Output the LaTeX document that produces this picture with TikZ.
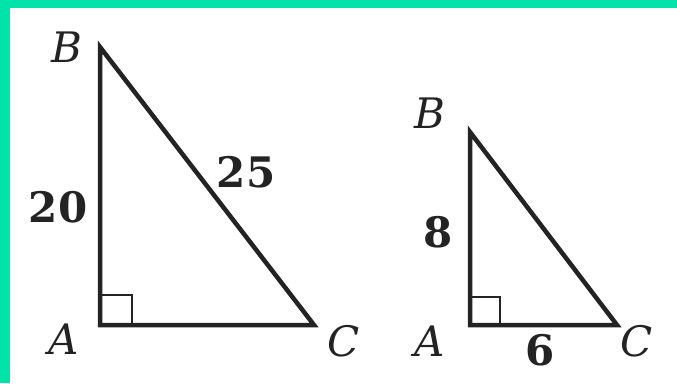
\documentclass[tikz,border=0pt]{standalone}
\usepackage{fontspec}
\setmainfont{DejaVu Serif}
\definecolor{frame}{RGB}{0,228,170}
\definecolor{ink}{RGB}{35,35,35}
\tikzset{
  tri/.style={draw=ink,line width=4.5pt,line join=miter},
  rmark/.style={draw=ink,line width=2.4pt},
  lbl/.style={font=\fontsize{42}{42}\selectfont\itshape,text=ink,inner sep=0pt},
  num/.style={font=\fontsize{42}{42}\selectfont\bfseries,text=ink,inner sep=0pt}
}
\begin{document}
\begin{tikzpicture}[x=1pt,y=-1pt]
\useasboundingbox (0,0) rectangle (677,383);
\fill[frame] (0,0) rectangle (677,383);
\fill[white] (10,8) rectangle (677,383);
% big triangle
\coordinate (B1) at (100,47);
\coordinate (A1) at (100,325);
\coordinate (C1) at (314,325);
\draw[tri] (A1) -- (B1) -- (C1) -- cycle;
\draw[rmark] (100,295) -- (132,295) -- (132,325);
\node[lbl] (lB1) at (67,47) {B};
\node[lbl] (lA1) at (64,339) {A};
\node[lbl] (lC1) at (344,341) {C};
\node[num] (n20) at (58,207) {20};
\node[num] (n25) at (246,172) {25};
% small triangle
\coordinate (B2) at (470,132);
\coordinate (A2) at (470,325);
\coordinate (C2) at (617,325);
\draw[tri] (A2) -- (B2) -- (C2) -- cycle;
\draw[rmark] (470,297) -- (500,297) -- (500,325);
\node[lbl] (lB2) at (430,113) {B};
\node[lbl] (lA2) at (430,341) {A};
\node[lbl] (lC2) at (637,341) {C};
\node[num] (n8) at (438,232) {8};
\node[num] (n6) at (540,350) {6};
\end{tikzpicture}
\end{document}
